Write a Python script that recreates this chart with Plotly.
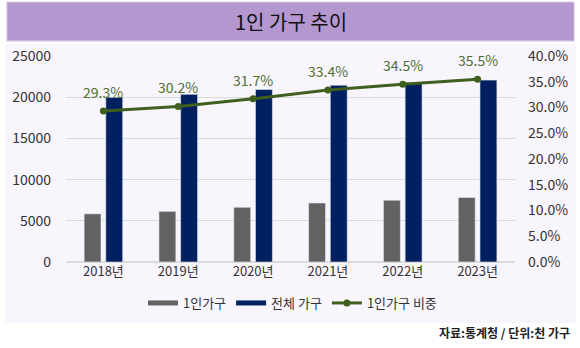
import plotly.graph_objects as go

years = ["2018년", "2019년", "2020년", "2021년", "2022년", "2023년"]
single = [5849, 6148, 6643, 7166, 7502, 7829]
total = [19979, 20343, 20927, 21448, 21774, 22073]
ratio = [29.3, 30.2, 31.7, 33.4, 34.5, 35.5]

FONT = "Noto Sans CJK KR"
GREEN = "#3F5F1F"
GRAY = "#626262"
NAVY = "#00205F"

fig = go.Figure()
fig.add_trace(go.Bar(x=years, y=single, name="1인가구", showlegend=False,
                     marker=dict(color=GRAY, line=dict(color="#F0ECF5", width=0.6))))
fig.add_trace(go.Bar(x=years, y=total, name="전체 가구", showlegend=False,
                     marker=dict(color=NAVY, line=dict(color="#E0E4F0", width=0.6))))
# legend-only swatches (wide bars like the reference)
fig.add_trace(go.Scatter(x=[None], y=[None], name="1인가구", mode="lines", line=dict(color=GRAY, width=5)))
fig.add_trace(go.Scatter(x=[None], y=[None], name="전체 가구", mode="lines", line=dict(color=NAVY, width=5)))
fig.add_trace(go.Scatter(x=years, y=ratio, name="1인가구 비중", yaxis="y2", mode="lines+markers",
                         line=dict(color=GREEN, width=3), marker=dict(color=GREEN, size=7)))

for yr, r in zip(years, ratio):
    fig.add_annotation(x=yr, y=r, yref="y2", text=f"{r:.1f}%", showarrow=False, yshift=19,
                       font=dict(family=FONT, size=14, color="#4E6E2C"))

L, R, T, B = 62, 62, 56, 86
W, H = 580, 348
pw, ph = W - L - R, H - T - B

def px(p):
    return (p - L) / pw

def py(p):
    return (H - B - p) / ph

shapes = [
    dict(type="rect", xref="paper", yref="paper", x0=px(0), x1=px(580), y0=py(323), y1=py(44),
         fillcolor="#F9F5FD", line=dict(width=0), layer="below"),
    dict(type="rect", xref="paper", yref="paper", x0=px(2), x1=px(578), y0=py(41), y1=py(2),
         fillcolor="#B597CF", line=dict(color="#D8C8E6", width=1), layer="below"),
]

fig.add_annotation(xref="paper", yref="paper", x=px(290), y=py(21), text="1인 가구 추이", showarrow=False,
                   font=dict(family=FONT, size=20, color="#111111"), xanchor="center", yanchor="middle")
fig.add_annotation(xref="paper", yref="paper", x=px(576), y=py(332), text="<b>자료:통계청 / 단위:천 가구</b>",
                   showarrow=False, font=dict(family=FONT, size=12, color="#222222"), xanchor="right", yanchor="middle")

fig.update_layout(
    width=W, height=H,
    margin=dict(l=L, r=R, t=T, b=B),
    paper_bgcolor="white", plot_bgcolor="rgba(0,0,0,0)",
    shapes=shapes,
    barmode="group", bargap=0.42, bargroupgap=0.22,
    font=dict(family=FONT, size=13, color="#333333"),
    xaxis=dict(showgrid=False, tickfont=dict(family=FONT, size=13, color="#333333"), ticks="", showline=False),
    yaxis=dict(range=[0, 25000], dtick=5000, tickformat="d", gridcolor="#DADADA", gridwidth=1,
               zeroline=True, zerolinecolor="#DADADA", tickfont=dict(family=FONT, size=14, color="#333333"),
               ticklabelstandoff=14),
    yaxis2=dict(range=[0, 40], dtick=5, tickformat=".1f", ticksuffix="%", overlaying="y", side="right",
                showgrid=False, zeroline=False, tickfont=dict(family=FONT, size=14, color="#333333"),
                ticklabelstandoff=12),
    legend=dict(orientation="h", x=px(292), xanchor="center", y=py(303), yanchor="middle",
                font=dict(family=FONT, size=13, color="#333333"), bgcolor="rgba(0,0,0,0)",
                itemwidth=30, tracegroupgap=0),
    showlegend=True,
)

fig.write_html("out.html")
